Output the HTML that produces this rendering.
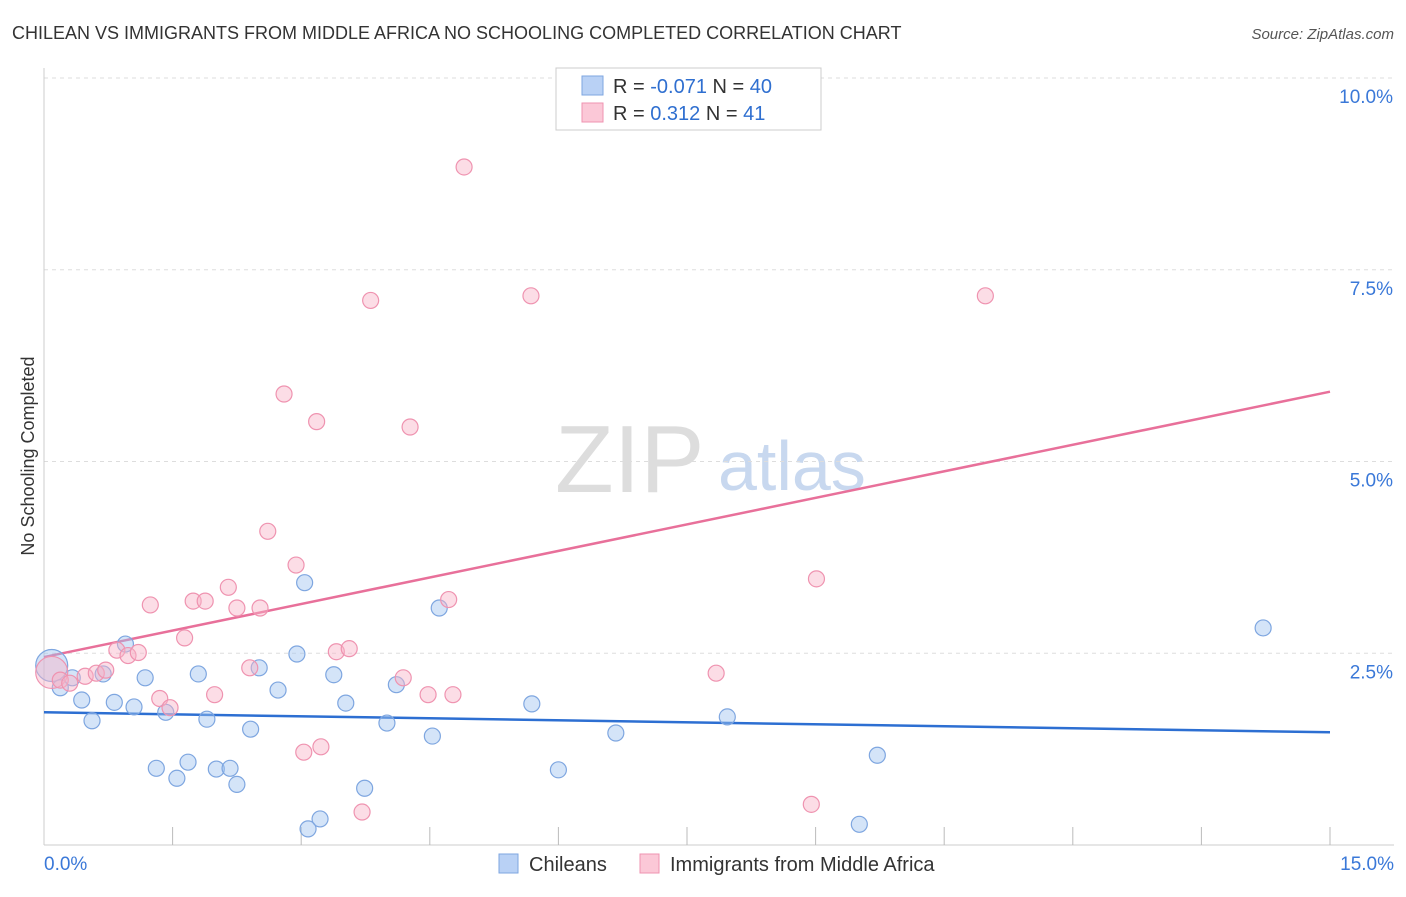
<!DOCTYPE html>
<html><head><meta charset="utf-8"><style>
body{margin:0;background:#fff;font-family:"Liberation Sans",sans-serif;}
svg text{font-family:"Liberation Sans",sans-serif;}
</style></head><body>
<svg width="1406" height="892" xmlns="http://www.w3.org/2000/svg">
<text x="12" y="39" font-size="18" fill="#333">CHILEAN VS IMMIGRANTS FROM MIDDLE AFRICA NO SCHOOLING COMPLETED CORRELATION CHART</text>
<text x="1394" y="39" font-size="15" fill="#555" font-style="italic" text-anchor="end">Source: ZipAtlas.com</text>
<text transform="translate(34,456) rotate(-90)" font-size="18" fill="#333" text-anchor="middle">No Schooling Completed</text>
<text x="555" y="492" font-size="96" fill="#ddd" font-family="Liberation Serif">ZIP</text>
<text x="718" y="490" font-size="70" fill="#c8d8ef">atlas</text>
<g id="grid"></g><g id="axes"></g><g id="lines"></g><g id="pts"></g>
<g>
<rect x="556" y="68" width="265" height="62" fill="#fff" stroke="#ccc"/>
<rect x="582" y="76" width="21" height="19" fill="#b9d1f5" stroke="#7ea6e0"/>
<rect x="582" y="103" width="21" height="19" fill="#fbc8d7" stroke="#ef93b0"/>
<text x="613" y="93" font-size="20" fill="#333">R = <tspan fill="#2f6fd0">-0.071</tspan>   N = <tspan fill="#2f6fd0">40</tspan></text>
<text x="613" y="120" font-size="20" fill="#333">R =   <tspan fill="#2f6fd0">0.312</tspan>   N =  <tspan fill="#2f6fd0">41</tspan></text>
</g>
<g>
<rect x="499" y="854" width="19" height="19" fill="#b9d1f5" stroke="#7ea6e0"/>
<text x="529" y="871" font-size="20" fill="#333">Chileans</text>
<rect x="640" y="854" width="19" height="19" fill="#fbc8d7" stroke="#ef93b0"/>
<text x="670" y="871" font-size="20" fill="#333">Immigrants from Middle Africa</text>
</g>
</svg>
<script>
const yTicks=[2.5,5.0,7.5,10.0];
const xTickLabels=["0.0%","15.0%"];
const blueX=[0.09,0.19,0.33,0.44,0.56,0.69,0.82,0.95,1.05,1.18,1.31,1.42,1.55,1.68,1.80,1.90,2.01,2.17,2.25,2.41,2.51,2.73,2.95,3.04,3.08,3.22,3.38,3.52,3.74,4.0,4.11,4.53,4.61,5.69,6.0,6.67,7.97,9.51,9.72,14.22];
const blueY=[2.34,2.05,2.18,1.89,1.62,2.23,1.86,2.62,1.80,2.18,1.00,1.73,0.87,1.08,2.23,1.64,0.99,1.00,0.79,1.51,2.31,2.02,2.49,3.42,0.21,0.34,2.22,1.85,0.74,1.59,2.09,1.42,3.09,1.84,0.98,1.46,1.67,0.27,1.17,2.83];
const pinkX=[0.09,0.19,0.30,0.48,0.61,0.72,0.85,0.98,1.10,1.24,1.35,1.47,1.64,1.74,1.88,1.99,2.15,2.25,2.40,2.52,2.61,2.80,2.94,3.03,3.18,3.23,3.41,3.56,3.71,3.81,4.19,4.27,4.48,4.72,4.77,4.90,5.68,7.84,8.95,9.01,10.98];
const pinkY=[2.25,2.15,2.11,2.20,2.24,2.28,2.54,2.47,2.51,3.13,1.91,1.79,2.70,3.18,3.18,1.96,3.36,3.09,2.31,3.09,4.09,5.88,3.65,1.21,5.52,1.28,2.52,2.56,0.43,7.10,2.18,5.45,1.96,3.20,1.96,8.84,7.16,2.24,0.53,3.47,7.16];
const pinkLine=[2.45,5.91], blueLine=[1.73,1.47];
const X=v=>44+v*(1286/15), Y=v=>845-v*76.7;
const NS="http://www.w3.org/2000/svg";
function mk(t,a,p){const e=document.createElementNS(NS,t);for(const k in a)e.setAttribute(k,a[k]);document.getElementById(p).appendChild(e);return e;}
yTicks.forEach(t=>{
 const l=mk('line',{x1:44,x2:1394,y1:Y(t),y2:Y(t),stroke:'#ddd','stroke-dasharray':'4,4'},'grid');
 
 
 const tx=mk('text',{x:1393,y:Y(t)+25,'font-size':19,fill:'#3a78d8','text-anchor':'end'},'grid');
 tx.textContent=t.toFixed(1)+'%';
 
 
});
const xa=mk('line',{x1:44,x2:1394,y1:845,y2:845,stroke:'#ccc'},'axes');


const ya=mk('line',{x1:44,x2:44,y1:68,y2:845,stroke:'#ccc'},'axes');


for(let i=1;i<=10;i++){const t=mk('line',{x1:X(i*1.5),x2:X(i*1.5),y1:827,y2:845,stroke:'#bbb'},'axes');
 
 }
[[44,'start',0],[1394,'end',1]].forEach(([x,a,i])=>{const t=mk('text',{x:x,y:870,'font-size':19,fill:'#3a78d8','text-anchor':a},'axes');t.textContent=xTickLabels[i];
 
 });
const pl=mk('line',{x1:X(0),y1:Y(pinkLine[0]),x2:X(15),y2:Y(pinkLine[1]),stroke:'#e8709a','stroke-width':2.5},'lines');


const bl=mk('line',{x1:X(0),y1:Y(blueLine[0]),x2:X(15),y2:Y(blueLine[1]),stroke:'#2d6fd2','stroke-width':2.5},'lines');


blueX.forEach((x,i)=>{const c=mk('circle',{cx:X(x),cy:Y(blueY[i]),r:i==0?16:8,fill:'rgba(160,195,240,0.45)',stroke:'#7ea6e0','stroke-width':1.2},'pts');
 
 });
pinkX.forEach((x,i)=>{const c=mk('circle',{cx:X(x),cy:Y(pinkY[i]),r:i==0?16:8,fill:'rgba(248,180,200,0.45)',stroke:'#ef93b0','stroke-width':1.2},'pts');
 
 });
</script>
</body></html>
